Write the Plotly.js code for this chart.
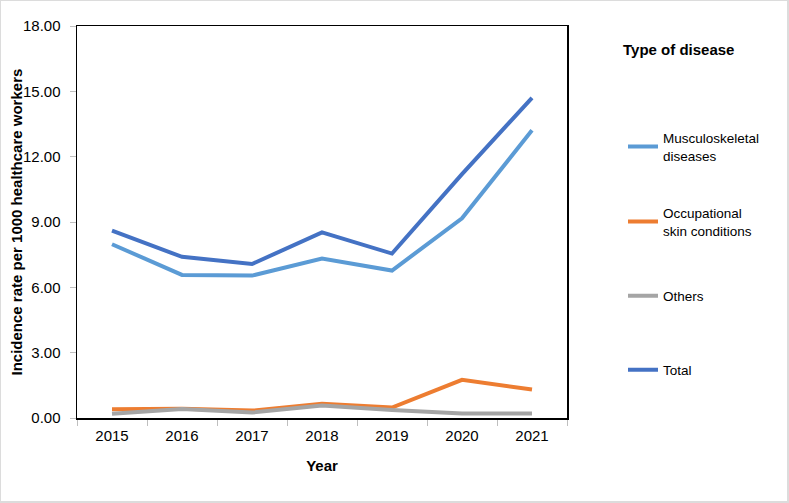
<!DOCTYPE html>
<html>
<head>
<meta charset="utf-8">
<script src="https://cdn.plot.ly/plotly-3.0.1.min.js"></script>
<style>
  html, body { margin: 0; padding: 0; background: #fff; }
  #wrap { width: 789px; height: 503px; box-sizing: border-box; border: 2px solid #dcdcdc; border-left-width: 1px; border-top-width: 1px; overflow: hidden; }
  #chart { width: 786px; height: 500px; }
</style>
</head>
<body>
<div id="wrap"><div id="chart"></div></div>
<script>
const years = ['2015', '2016', '2017', '2018', '2019', '2020', '2021'];
const musculoskeletal = [7.98, 6.57, 6.54, 7.32, 6.77, 9.17, 13.21];
const skin = [0.40, 0.42, 0.34, 0.65, 0.48, 1.75, 1.31];
const others = [0.20, 0.41, 0.25, 0.57, 0.37, 0.21, 0.21];
const total = [8.60, 7.40, 7.07, 8.52, 7.55, 11.20, 14.70];
const seriesNames = ['Musculoskeletal<br>diseases', 'Occupational<br>skin conditions', 'Others', 'Total'];
const seriesColors = ['#5B9BD5', '#ED7D31', '#A5A5A5', '#4472C4'];
const yTicks = [0, 3, 6, 9, 12, 15, 18];

const seriesData = [musculoskeletal, skin, others, total];
const legendIds = ['legend', 'legend2', 'legend3', 'legend4'];
const legendCentersPx = [147, 222, 296, 370];

const traces = seriesData.map((vals, i) => ({
  type: 'scatter',
  mode: 'lines',
  x: years,
  y: vals,
  name: seriesNames[i],
  legend: legendIds[i],
  line: { color: seriesColors[i], width: 4 },
  hoverinfo: 'x+y+name'
}));

const font = 'Liberation Sans, Arial, sans-serif';
const W = 786, H = 500;
const ML = 76, MR = 220, MT = 25, MB = 83;
const PW = W - ML - MR, PH = H - MT - MB;
const layout = {
  width: W, height: H,
  margin: { l: ML, r: MR, t: MT, b: MB, pad: 0 },
  paper_bgcolor: '#ffffff',
  plot_bgcolor: '#ffffff',
  font: { family: font, color: '#000', size: 15 },
  showlegend: true,
  annotations: [{
    text: '<b>Type of disease</b>',
    xref: 'paper', yref: 'paper',
    x: (620 - ML) / PW, y: (MT + PH - 49) / PH,
    xanchor: 'left', yanchor: 'middle',
    showarrow: false,
    font: { family: font, size: 15, color: '#000' }
  }, {
    text: '<b>Incidence rate per 1000 healthcare workers</b>',
    xref: 'paper', yref: 'paper',
    x: (14.5 - ML) / PW, y: 0.5,
    xanchor: 'center', yanchor: 'middle',
    textangle: -90,
    showarrow: false,
    font: { family: font, size: 15, color: '#000' }
  }],
  xaxis: {
    type: 'category',
    range: [-0.5, 6.5],
    tickson: 'boundaries',
    ticks: 'outside', ticklen: 6, tickwidth: 1, tickcolor: '#bfbfbf',
    showline: true, linecolor: '#000', linewidth: 1.5, mirror: true,
    showgrid: false, zeroline: false,
    tickfont: { family: font, size: 15, color: '#000' },
    ticklabelstandoff: 3,
    title: { text: '<b>Year</b>', font: { family: font, size: 15, color: '#000' }, standoff: 18 }
  },
  yaxis: {
    range: [0, 18],
    tickvals: yTicks,
    tickformat: '.2f',
    ticks: 'outside', ticklen: 6, tickwidth: 1, tickcolor: '#bfbfbf',
    showline: true, linecolor: '#000', linewidth: 1.5, mirror: true,
    showgrid: false, zeroline: false,
    tickfont: { family: font, size: 15, color: '#000' },
    ticklabelstandoff: 6
  }
};

legendIds.forEach((id, i) => {
  layout[id] = {
    x: 622 / W, xref: 'container', xanchor: 'left',
    y: 1 - (legendCentersPx[i] - 1) / H, yref: 'container', yanchor: 'middle',
    font: { family: font, size: 13.5, color: '#000' },
    bgcolor: 'rgba(0,0,0,0)'
  };
});

Plotly.newPlot('chart', traces, layout, { displayModeBar: false, staticPlot: true });
</script>
</body>
</html>
